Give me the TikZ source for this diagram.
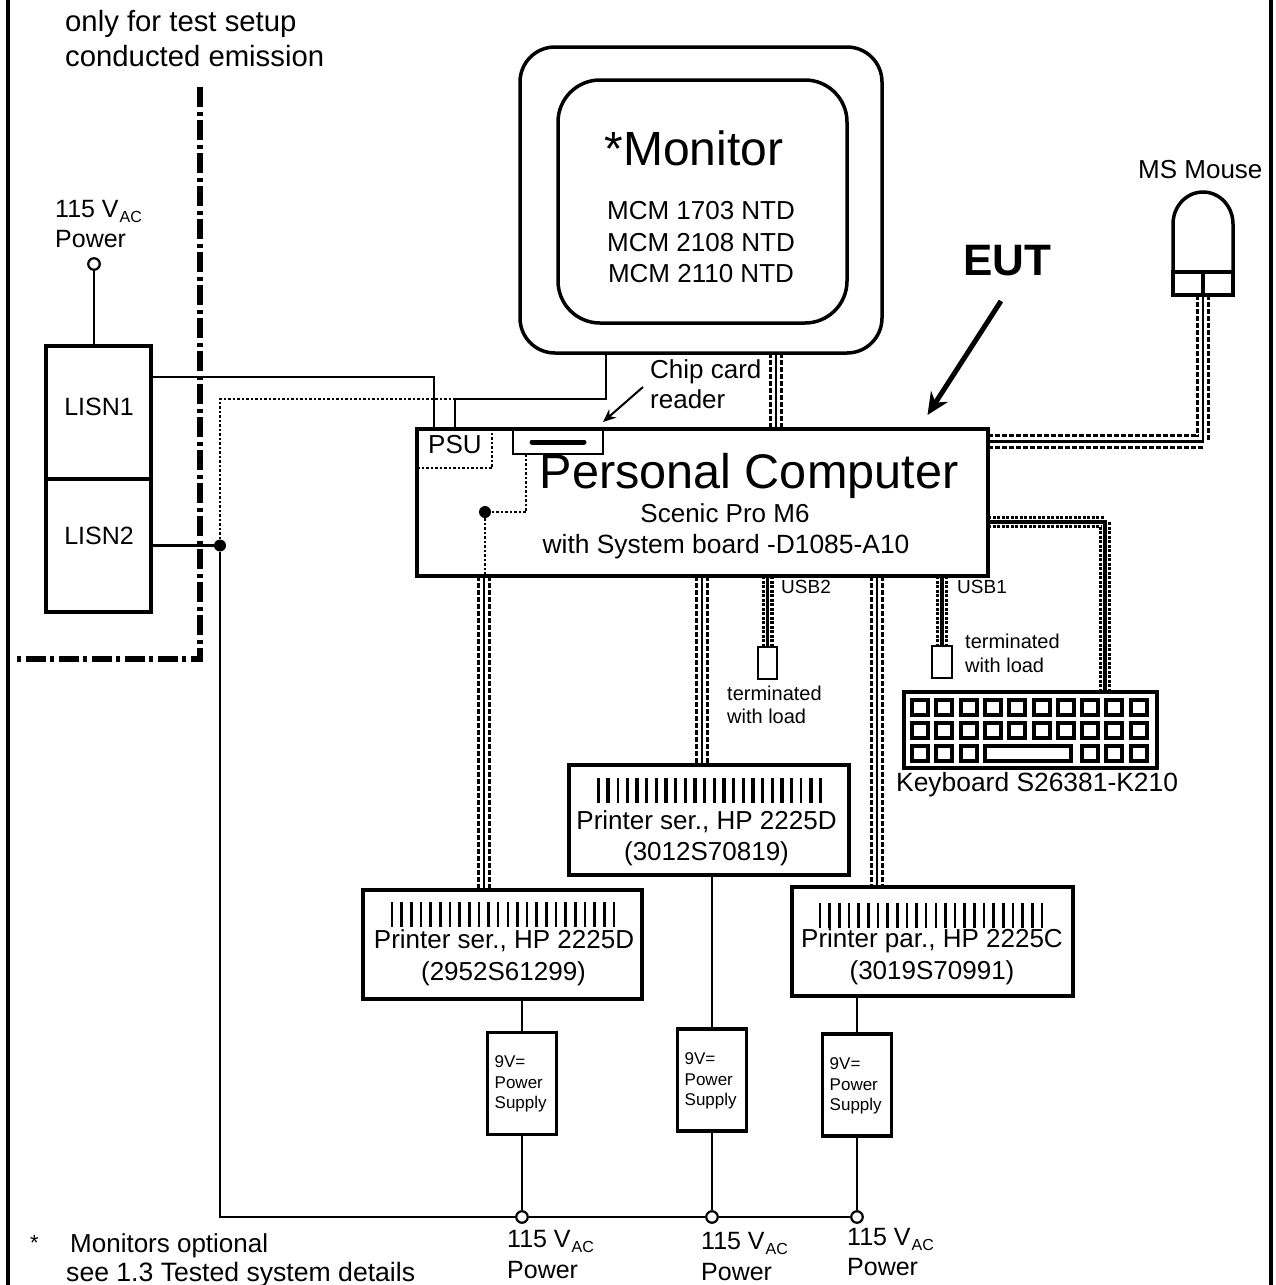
\documentclass[tikz,border=0pt]{standalone}
\usepackage{fontspec}
\usepackage{tikz}
\usetikzlibrary{arrows.meta,backgrounds}
\setmainfont{Liberation Sans}
\newcommand{\fs}[1]{\fontsize{#1}{#1}\selectfont}
\newcommand{\vac}{115 V\kern1pt\raisebox{-0.4ex}{\fs{16}AC}}
\newcommand{\barcode}[2]{%
  \foreach \i [evaluate=\i as \w using {mod(\i,3)==1 ? 3.6 : 2.6}] in {0,...,23}
    \draw[line width=\w pt] (#1+\i*9.65,#2) -- ++(0,25);}

\begin{document}
\begin{tikzpicture}[
  x=1pt, y=-1pt,
  every node/.style={font=\fs{26}},
  box/.style={draw, line width=3.5pt, outer sep=0pt, inner sep=0pt},
  thinbox/.style={box, line width=2.2pt},
  key/.style={box, line width=4pt, minimum width=16pt, minimum height=15pt},
  lbl/.style={anchor=base west, inner sep=0pt},
  lblc/.style={anchor=base, inner sep=0pt},
  port/.style={circle, draw, fill=white, line width=2.2pt, inner sep=0pt, minimum size=11.5pt},
  junction/.style={circle, fill=black, inner sep=0pt, minimum size=12pt},
  wire/.style={line width=2.8pt},
  shield/.style={line width=2.8pt, dash pattern=on 2.5pt off 2pt},
  fence/.style={line width=5.5pt, dash pattern=on 20pt off 5pt on 4pt off 4pt},
  cable/.style={line width=14.5pt, dash pattern=on 5pt off 2pt,
    postaction={draw, solid, white, line width=8.5pt},
    postaction={draw, solid, black, line width=2.8pt}},
  cablen/.style={line width=12pt, dash pattern=on 3pt off 1.5pt,
    postaction={draw, solid, white, line width=5.5pt},
    postaction={draw, solid, black, line width=3.5pt}}
]
\useasboundingbox (0,0) rectangle (1275,1285);

\node[box, rounded corners=35pt, minimum width=362pt, minimum height=306pt] (monitor) at (701,200) {};
\node[box, rounded corners=42pt, minimum width=289pt, minimum height=243pt] (screen) at (702.5,201.5) {};
\node[lblc, font=\fs{48}] (montitle) at (694,165) {*Monitor};
\node[lblc] (mon1) at (701,219) {MCM 1703 NTD};
\node[lblc] (mon2) at (701,251) {MCM 2108 NTD};
\node[lblc] (mon3) at (701,282) {MCM 2110 NTD};

\node[box, minimum width=571pt, minimum height=147pt] (pc) at (702.5,502.5) {};
\node[lblc, font=\fs{48.6}] (pctitle) at (749,488) {Personal Computer};
\node[lblc] (pcsub1) at (725,522) {Scenic Pro M6};
\node[lblc, font=\fs{26.4}] (pcsub2) at (726,553) {with System board -D1085-A10};
\node[lbl] (psu) at (428,453) {PSU};
\node[thinbox, minimum width=90pt, minimum height=24pt] (reader) at (558,442) {};
\node[junction] (jpc) at (485,512) {};
\coordinate (psucorner) at (492,468);
\coordinate (readerbend) at (526,512);

\node[box, minimum width=105pt, minimum height=133pt] (lisn1) at (98.5,412.5) {};
\node[box, minimum width=105pt, minimum height=133pt] (lisn2) at (98.5,545.5) {};
\node[lblc, font=\fs{25}] (lisn1lbl) at (99,415) {LISN1};
\node[lblc, font=\fs{25}] (lisn2lbl) at (99,544) {LISN2};
\node[port] (acin0) at (94,264) {};
\node[lbl, font=\fs{25}] (ac0) at (55,217) {\vac};
\node[lbl, font=\fs{25}] (pw0) at (55,247) {Power};
\node[junction] (jlisn) at (220,545.5) {};

\node[lbl, font=\fs{29.3}] (note1) at (65,31) {only for test setup};
\node[lbl, font=\fs{29.3}] (note2) at (65,66) {conducted emission};
\coordinate (fence0) at (200,87);
\coordinate (fence1) at (200,659);
\coordinate (fence2) at (16,659);

\node[lbl] (chip1) at (650,378) {Chip card};
\node[lbl] (chip2) at (650,408) {reader};
\coordinate (chipfoot) at (643,387);
\node[lbl, font=\bfseries\fs{44}] (eut) at (963,275) {EUT};
\coordinate (eutfoot) at (1001,301);

\node[box, minimum width=60pt, minimum height=23pt] (mouse) at (1203,283.5) {};
\node[lbl] (mouselbl) at (1138,178) {MS Mouse};

\node[thinbox, minimum width=19pt, minimum height=32pt] (load2) at (767.5,663) {};
\node[thinbox, minimum width=20pt, minimum height=32pt] (load1) at (942,662) {};
\node[lbl, font=\fs{19}] (usb2) at (781,593) {USB2};
\node[lbl, font=\fs{19}] (usb1) at (957,593) {USB1};
\node[lbl, font=\fs{20}] (term2a) at (727,700) {terminated};
\node[lbl, font=\fs{20}] (term2b) at (727,723) {with load};
\node[lbl, font=\fs{20}] (term1a) at (965,648) {terminated};
\node[lbl, font=\fs{20}] (term1b) at (965,672) {with load};

\node[box, minimum width=253pt, minimum height=76pt] (keyboard) at (1030.5,730) {};
\foreach \c in {0,...,9} {
  \node[key] (ka\c) at (920+\c*24.3,707.5) {};
  \node[key] (kb\c) at (920+\c*24.3,730) {};
}
\foreach \c in {0,1,2,7,8,9}
  \node[key] (kc\c) at (920+\c*24.3,753) {};
\node[key, minimum width=86pt] (spacebar) at (1027.5,753) {};
\node[lbl, font=\fs{26.4}] (kbdlbl) at (896,791) {Keyboard S26381-K210};

\node[box, minimum width=279pt, minimum height=109pt] (prn1) at (502.5,944.5) {};
\node[box, minimum width=280pt, minimum height=110pt] (prn2) at (709,820) {};
\node[box, minimum width=281pt, minimum height=109pt] (prn3) at (932.5,941.5) {};
\barcode{392}{902}
\barcode{598.5}{778}
\barcode{820}{903}
\node[lblc] (prn1a) at (504,948) {Printer ser., HP 2225D};
\node[lblc] (prn1b) at (503.5,980) {(2952S61299)};
\node[lblc] (prn2a) at (706.5,829) {Printer ser., HP 2225D};
\node[lblc] (prn2b) at (706.5,860) {(3012S70819)};
\node[lblc] (prn3a) at (932,947) {Printer par., HP 2225C};
\node[lblc] (prn3b) at (932,979) {(3019S70991)};

\foreach \n/\x/\y/\h in {1/522/1083.5/1067, 2/712/1080/1064, 3/857/1085/1069} {
  \node[box, minimum width=69pt, minimum height=102pt] (ps\n) at (\x,\y) {};
  \node[lbl, font=\fs{17}] (psa\n) at (\x-27.5,\h) {9V=};
  \node[lbl, font=\fs{17}] (psb\n) at (\x-27.5,\h+21) {Power};
  \node[lbl, font=\fs{17}] (psc\n) at (\x-27.5,\h+41) {Supply};
  \node[port] (acin\n) at (\x,1217) {};
}
\foreach \n/\x/\y/\z in {1/507/1247/1278, 2/701/1249/1280, 3/847/1245/1275} {
  \node[lbl, font=\fs{25}] (ac\n) at (\x,\y) {\vac};
  \node[lbl, font=\fs{25}] (pw\n) at (\x,\z) {Power};
}
\node[lbl, font=\fs{22}] (star) at (30,1250) {*};
\node[lbl] (foot1) at (70,1252) {Monitors optional};
\node[lbl, font=\fs{26.6}] (foot2) at (66,1281) {see 1.3 Tested system details};

\coordinate (framel) at (8,0);
\coordinate (framer) at (1271,0);
\coordinate (frameb) at (0,1285);
\draw[line width=4.5pt] (framel) -- (framel |- frameb);
\draw[line width=4.5pt] (framer) -- (framer |- frameb);

\draw[fence] (fence0) -- (fence1) -- (fence2);
\draw[wire] (acin0) -- (lisn1.north -| acin0);

\coordinate (tapl) at (434,377);
\coordinate (tapm) at (606,399);
\coordinate (tapn) at (455,399);
\coordinate (tapcard) at (221,399);
\draw[wire] (lisn1.east |- tapl) -- (tapl) -- (pc.north -| tapl);
\draw[wire] (monitor.south -| tapm) -- (tapm) -- (tapn) -- (pc.north -| tapn);
\draw[shield] (jlisn) -- (jlisn |- tapcard) -- (tapn);
\draw[wire] (lisn2.east) -- (jlisn);
\draw[wire] (jlisn) |- (acin1);
\draw[wire] (acin1) -- (acin2);
\draw[wire] (acin2) -- (acin3);

\draw[shield] (pc.west |- psucorner) -- (psucorner) -- (pc.north -| psucorner);
\draw[line width=5pt, line cap=round] ([xshift=-26pt]reader.center) -- ([xshift=26pt]reader.center);
\draw[shield] (reader.south -| readerbend) -- (readerbend) -- (jpc);
\draw[shield] (jpc) -- (pc.south -| jpc);
\draw[line width=2pt, -{Stealth[length=13pt,width=11pt]}] (chipfoot) -- ([yshift=8pt]reader.north east);
\draw[line width=5pt, -{Stealth[length=22pt,width=20pt]}] (eutfoot) -- ([xshift=225pt,yshift=14pt]pc.north);

\draw[line width=3.5pt] (mouse.north) -- (mouse.south);
\draw[line width=3.5pt] (mouse.north west) -- ++(0,-48) arc[start angle=180, end angle=0, x radius=30pt, y radius=32pt] -- (mouse.north east);

\foreach \n in {1,2,3} {
  \draw[wire] (prn\n.south -| ps\n.north) -- (ps\n.north);
  \draw[wire] (ps\n.south) -- (acin\n);
}

\begin{scope}[on background layer]
\coordinate (tapmon) at (776,0);
\coordinate (tapmouse) at (0,441.5);
\coordinate (tapkbd) at (1105,522);
\coordinate (tapp1) at (484,0);
\coordinate (tapp2) at (702,0);
\coordinate (tapp3) at (877,0);
\draw[cable] (monitor.south -| tapmon) -- (pc.north -| tapmon);
\draw[cable] (pc.east |- tapmouse) -- (mouse.south |- tapmouse) -- (mouse.south);
\draw[cablen] (pc.east |- tapkbd) -- (tapkbd) -- (keyboard.north -| tapkbd);
\draw[cable] (pc.south -| tapp1) -- (prn1.north -| tapp1);
\draw[cable] (pc.south -| tapp2) -- (prn2.north -| tapp2);
\draw[cable] (pc.south -| tapp3) -- (prn3.north -| tapp3);
\draw[cablen] (pc.south -| load2.north) -- (load2.north);
\draw[cablen] (pc.south -| load1.north) -- (load1.north);
\end{scope}
\end{tikzpicture}
\end{document}
